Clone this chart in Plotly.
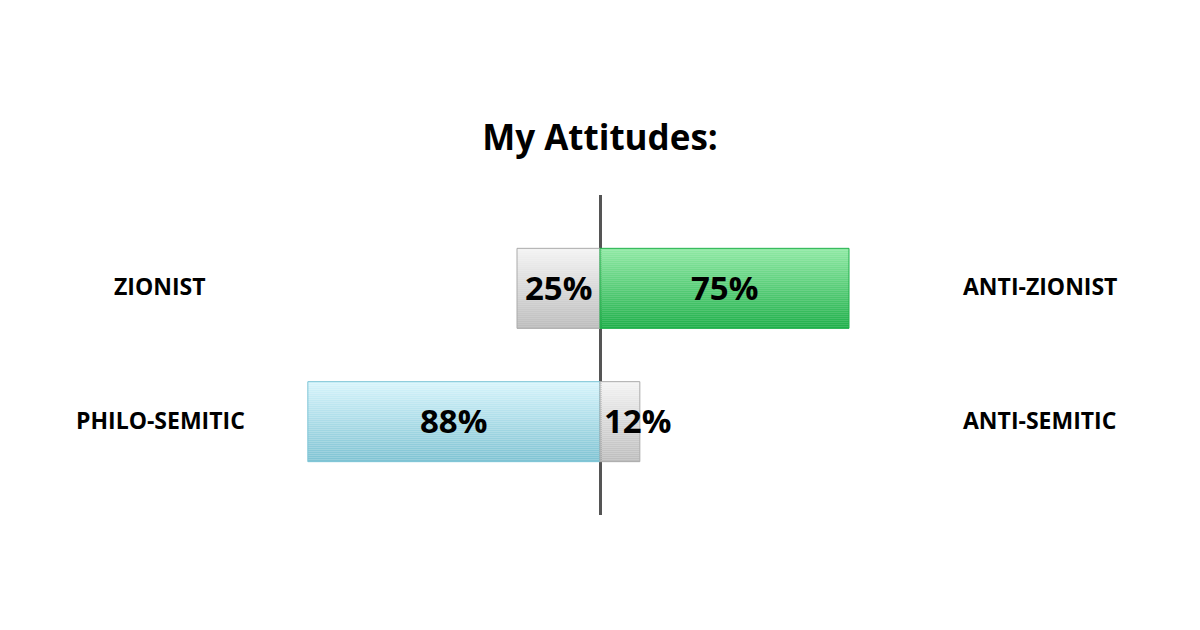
import plotly.graph_objects as go

# Data
left_labels = ["ZIONIST", "PHILO-SEMITIC"]
right_labels = ["ANTI-ZIONIST", "ANTI-SEMITIC"]
left_values = [25, 88]
right_values = [75, 12]
left_styles = ["gray", "blue"]
right_styles = ["green", "gray"]

palette = {
    "gray": ("#f3f3f3", "#bdbdbd", "#aaaaaa"),
    "green": ("#8fe9a4", "#20b04b", "#22b14c"),
    "blue": ("#d6f4fb", "#7fc3d3", "#7cc4d6"),
}

def hex2rgb(h):
    h = h.lstrip("#")
    return [int(h[i:i + 2], 16) for i in (0, 2, 4)]

def mix(c1, c2, t):
    a, b = hex2rgb(c1), hex2rgb(c2)
    return "rgb(%d,%d,%d)" % tuple(round(a[k] + (b[k] - a[k]) * t) for k in range(3))

N = 40
BW = 0.6
fig = go.Figure()

def add_bar(idx, value, style):
    top, bottom, edge = palette[style]
    for i in range(N):
        t = i / (N - 1)
        fig.add_trace(go.Bar(
            x=[value], y=[idx], orientation="h",
            width=BW / N * 1.05, offset=-BW / 2 + i * BW / N,
            marker=dict(color=mix(top, bottom, t), line=dict(width=0)),
            hoverinfo="skip", showlegend=False,
        ))
    fig.add_trace(go.Bar(
        x=[value], y=[idx], orientation="h", width=BW,
        marker=dict(color="rgba(0,0,0,0)", line=dict(width=1, color=edge)),
        hoverinfo="skip", showlegend=False,
    ))

for i in range(len(left_labels)):
    add_bar(i, -left_values[i], left_styles[i])
    add_bar(i, right_values[i], right_styles[i])

val_font = dict(family="Open Sans", size=33, color="#000000")
lab_font = dict(family="Open Sans", size=23, color="#000000")

annotations = []
for i in range(len(left_labels)):
    annotations.append(dict(x=-132.5, y=i, text="<b>%s</b>" % left_labels[i],
                            showarrow=False, font=lab_font, xref="x", yref="y", yshift=2))
    annotations.append(dict(x=132.5, y=i, text="<b>%s</b>" % right_labels[i],
                            showarrow=False, font=lab_font, xref="x", yref="y", yshift=2))
    lv, rv = left_values[i], right_values[i]
    if lv >= 20:
        annotations.append(dict(x=-lv / 2, y=i, text="<b>%d%%</b>" % lv,
                                showarrow=False, font=val_font, yshift=1))
    else:
        annotations.append(dict(x=0, y=i, text="<b>%d%%</b>" % lv, xanchor="right",
                                xshift=-2, showarrow=False, font=val_font, yshift=1))
    if rv >= 20:
        annotations.append(dict(x=rv / 2, y=i, text="<b>%d%%</b>" % rv,
                                showarrow=False, font=val_font, yshift=1))
    else:
        annotations.append(dict(x=0, y=i, text="<b>%d%%</b>" % rv, xanchor="left",
                                xshift=2, showarrow=False, font=val_font, yshift=1))

fig.update_layout(
    width=1200, height=630,
    paper_bgcolor="white", plot_bgcolor="white",
    barmode="overlay",
    margin=dict(l=94, r=110, t=187, b=123),
    title=dict(text="<b>My Attitudes:</b>", x=(600 - 8) / 1200, xanchor="center",
               y=1 - 130 / 630, yanchor="middle",
               font=dict(family="Open Sans", size=35, color="#000000")),
    xaxis=dict(range=[-150, 150], showgrid=False, showticklabels=False,
               zeroline=True, zerolinecolor="#555555", zerolinewidth=3,
               fixedrange=True),
    yaxis=dict(range=[1.7, -0.7], showgrid=False, showticklabels=False,
               zeroline=False, fixedrange=True),
    annotations=annotations,
    font=dict(family="Open Sans"),
)

fig.write_html("out.html")
